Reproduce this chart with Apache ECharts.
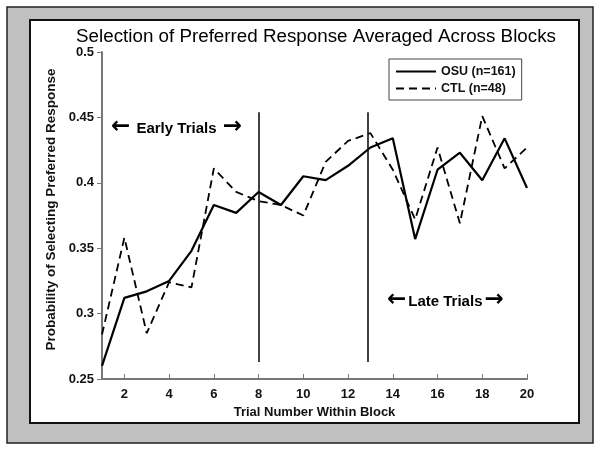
<!DOCTYPE html>
<html>
<head>
<meta charset="utf-8">
<script src="https://cdn.jsdelivr.net/npm/echarts@6/dist/echarts.min.js"></script>
<style>
  html, body { margin: 0; padding: 0; background: #fff; }
  #chart { width: 602px; height: 450px; }
</style>
</head>
<body>
<div id="chart"></div>
<script>
// trial numbers within a block
var trials = [1, 2, 3, 4, 5, 6, 7, 8, 9, 10, 11, 12, 13, 14, 15, 16, 17, 18, 19, 20];
// OSU (n=161)
var osu = [0.260, 0.312, 0.317, 0.325, 0.348, 0.383, 0.377, 0.393, 0.383, 0.405,
           0.402, 0.413, 0.427, 0.434, 0.357, 0.410, 0.423, 0.402, 0.434, 0.396];
// CTL (n=48)
var ctl = [0.284, 0.358, 0.285, 0.324, 0.320, 0.411, 0.393, 0.386, 0.383, 0.375,
           0.416, 0.432, 0.438, 0.410, 0.372, 0.427, 0.369, 0.451, 0.411, 0.427];
var xTicks = [2, 4, 6, 8, 10, 12, 14, 16, 18, 20];
var yTicks = [0.25, 0.3, 0.35, 0.4, 0.45, 0.5];
// early / late boundaries
var splitAt = [8, 12.9];
var splitRange = [0.263, 0.454];

function pairs(ys) {
    return trials.map(function (t, i) { return [t, ys[i]]; });
}

var chart = echarts.init(document.getElementById("chart"));
var boldFont = { fontFamily: "Liberation Sans, Arial", fontWeight: "bold", color: "#111" };
var arrowRich = { a: { fontSize: 23, fontFamily: "DejaVu Sans", fontWeight: "bold", padding: [0, 2, 2, 2] } };

chart.setOption({
    animation: false,
    backgroundColor: "#fff",
    title: {
        text: "Selection of Preferred Response Averaged Across Blocks",
        left: 311,
        top: 22,
        textAlign: "center",
        textStyle: { fontFamily: "Liberation Sans, Arial", fontWeight: "normal", fontSize: 18.8, color: "#000" }
    },
    legend: {
        orient: "vertical",
        left: 389,
        top: 59,
        padding: [6, 6, 5, 6],
        itemGap: 4,
        itemWidth: 40,
        itemHeight: 12,
        borderColor: "#444",
        borderWidth: 1,
        itemStyle: { opacity: 0 },
        textStyle: { fontFamily: "Liberation Sans, Arial", fontWeight: "bold", fontSize: 12.5, color: "#111" },
        data: ["OSU (n=161)", "CTL (n=48)"]
    },
    grid: { left: 102, right: 75, top: 52, bottom: 71 },
    xAxis: {
        type: "value",
        min: 1,
        max: 20,
        name: "Trial Number Within Block",
        nameLocation: "middle",
        nameGap: 27,
        nameTextStyle: Object.assign({ fontSize: 13 }, boldFont),
        axisLine: { lineStyle: { color: "#777", width: 2 } },
        axisTick: { inside: true, length: 5, customValues: xTicks, lineStyle: { color: "#777" } },
        axisLabel: Object.assign({ fontSize: 13, margin: 9, customValues: xTicks }, boldFont),
        splitLine: { show: false }
    },
    yAxis: {
        type: "value",
        min: 0.25,
        max: 0.5,
        name: "Probability of Selecting Preferred Response",
        nameLocation: "middle",
        nameGap: 40,
        nameTextStyle: Object.assign({ fontSize: 13.5, padding: [0, 0, 0, 12] }, boldFont),
        axisLine: { show: true, lineStyle: { color: "#777", width: 2 } },
        axisTick: { show: true, length: 5, customValues: yTicks, lineStyle: { color: "#777" } },
        axisLabel: Object.assign({ fontSize: 13, margin: 8, customValues: yTicks }, boldFont),
        splitLine: { show: false }
    },
    graphic: [
        {
            type: "rect", z: -10, silent: true,
            shape: { x: 7, y: 7, width: 586, height: 436 },
            style: { fill: "#c0c0c0", stroke: "#222", lineWidth: 1.5 }
        },
        {
            type: "rect", z: -9, silent: true,
            shape: { x: 30, y: 20, width: 549, height: 403 },
            style: { fill: "#fff", stroke: "#111", lineWidth: 2 }
        },
        {
            type: "text", left: 111, top: 116, silent: true,
            style: {
                text: "{a|←} Early Trials {a|→}",
                fontFamily: "Liberation Sans, Arial", fontWeight: "bold", fontSize: 15, fill: "#000",
                rich: arrowRich
            }
        },
        {
            type: "text", left: 387, top: 289, silent: true,
            style: {
                text: "{a|←}Late Trials{a|→}",
                fontFamily: "Liberation Sans, Arial", fontWeight: "bold", fontSize: 15, fill: "#000",
                rich: arrowRich
            }
        }
    ],
    series: [
        {
            name: "OSU (n=161)",
            type: "line",
            data: pairs(osu),
            symbol: "none",
            itemStyle: { color: "#000" },
            lineStyle: { color: "#000", width: 2.2, type: "solid" },
            markLine: {
                silent: true,
                symbol: "none",
                label: { show: false },
                lineStyle: { color: "#111", width: 1.6, type: "solid" },
                data: splitAt.map(function (x) {
                    return [{ coord: [x, splitRange[0]] }, { coord: [x, splitRange[1]] }];
                })
            }
        },
        {
            name: "CTL (n=48)",
            type: "line",
            data: pairs(ctl),
            symbol: "none",
            itemStyle: { color: "#000" },
            lineStyle: { color: "#000", width: 1.8, type: [8, 5] }
        }
    ]
});
</script>
</body>
</html>
